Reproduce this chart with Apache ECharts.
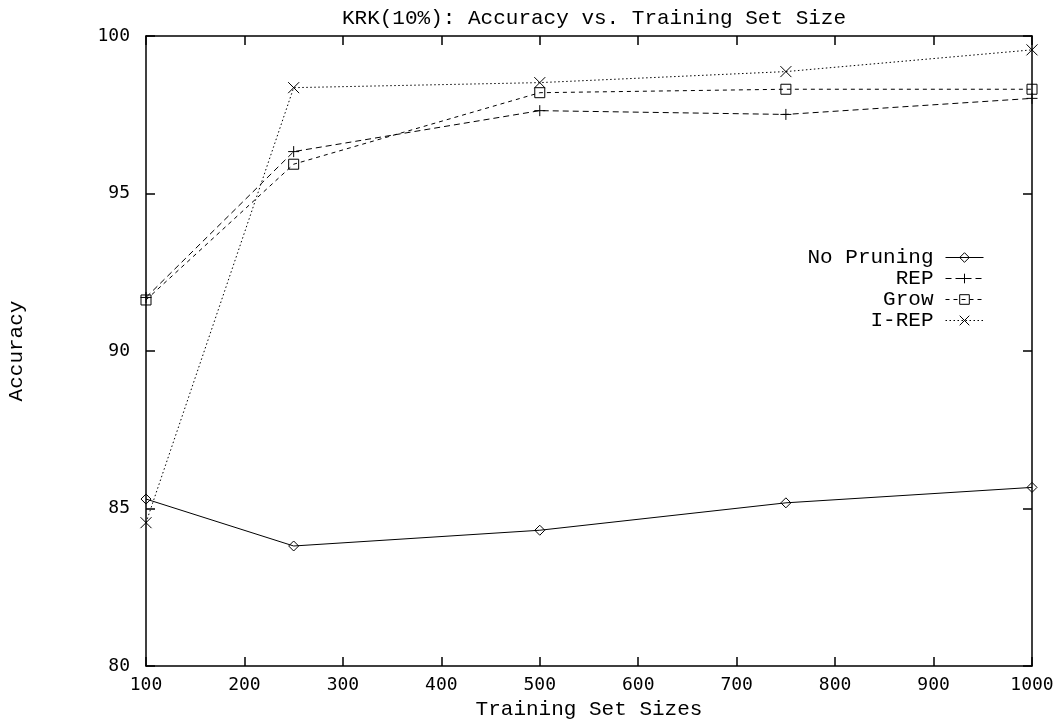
<!DOCTYPE html>
<html><head><meta charset="utf-8">
<script src="https://cdn.jsdelivr.net/npm/echarts@6/dist/echarts.min.js"></script>
<style>html,body{margin:0;padding:0;background:#fff}#c{width:1062px;height:721px}</style>
</head><body><div id="c"></div>
<script>
const sizes = [100, 250, 500, 750, 1000];
const noPruning = [85.30, 83.81, 84.31, 85.18, 85.67];
const rep = [91.70, 96.33, 97.63, 97.51, 98.02];
const grow = [91.62, 95.93, 98.20, 98.31, 98.31];
const irep = [84.55, 98.36, 98.52, 98.87, 99.56];
const seriesNames = ['No Pruning', 'REP', 'Grow', 'I-REP'];

const FONT = '"Liberation Mono", "Courier New", monospace';
const TICKFONT = '"DejaVu Sans Mono", monospace';
const pairs = a => sizes.map((s, i) => [s, a[i]]);
const diamondPath = 'path://M0,-5L5,0L0,5L-5,0Z';
const rectPath = 'path://M-5,-5L5,-5L5,5L-5,5Z';
const plusPath = 'path://M0,-5L0,5M-5,0L5,0';
const xPath = 'path://M-5,-5L5,5M-5,5L5,-5';

function mk(name, data, symbol, size, dash) {
  return {
    name, type: 'line', data: pairs(data), symbol, symbolSize: size,
    lineStyle: { color: '#000', width: 1, type: dash },
    itemStyle: { color: 'transparent', borderColor: '#000', borderWidth: 1 },
    emphasis: { disabled: true }, animation: false, z: 3
  };
}

const axisCommon = {
  axisLine: { show: true, lineStyle: { color: '#000', width: 1.5 } },
  axisTick: { show: true, inside: true, length: 9, lineStyle: { color: '#000', width: 1.5 } },
  splitLine: { show: false }
};

const chart = echarts.init(document.getElementById('c'));
chart.setOption({
  backgroundColor: '#fff',
  animation: false,
  textStyle: { fontFamily: FONT },
  title: { text: 'KRK(10%): Accuracy vs. Training Set Size', left: 589, top: 3, textAlign: 'center',
    textStyle: { fontFamily: FONT, fontSize: 21, fontWeight: 'normal', color: '#000' } },
  grid: { left: 146, right: 30, top: 36, bottom: 55, outerBoundsMode: 'none', containLabel: false },
  legend: {
    orient: 'vertical', right: 73, top: 242, align: 'right',
    itemWidth: 38, itemHeight: 12, itemGap: 0,
    data: seriesNames,
    lineStyle: { width: 1 },
    itemStyle: { borderWidth: 1 },
    textStyle: { fontFamily: FONT, fontSize: 21, lineHeight: 21, color: '#000', padding: [0, 7, 0, 0] },
    selectedMode: false
  },
  xAxis: [
    Object.assign({ type: 'value', min: 100, max: 1000, interval: 100, position: 'bottom',
      name: 'Training Set Sizes', nameLocation: 'middle', nameGap: 29,
      nameTextStyle: { fontFamily: FONT, fontSize: 21, color: '#000' },
      axisLabel: { fontFamily: TICKFONT, fontSize: 18, color: '#000', margin: 10, formatter: v => String(v) } }, axisCommon),
    Object.assign({ type: 'value', min: 100, max: 1000, interval: 100, position: 'top',
      axisLabel: { show: false } }, axisCommon)
  ],
  yAxis: [
    Object.assign({ type: 'value', min: 80, max: 100, interval: 5, position: 'left',
      name: 'Accuracy', nameLocation: 'middle', nameGap: 119, nameRotate: 90,
      nameTextStyle: { fontFamily: FONT, fontSize: 21, color: '#000' },
      axisLabel: { fontFamily: TICKFONT, fontSize: 18, color: '#000', margin: 16 } }, axisCommon),
    Object.assign({ type: 'value', min: 80, max: 100, interval: 5, position: 'right',
      axisLabel: { show: false } }, axisCommon)
  ],
  series: [
    mk('No Pruning', noPruning, diamondPath, 10, 'solid'),
    mk('REP', rep, plusPath, 11, [6, 4]),
    mk('Grow', grow, rectPath, 10, [4, 4]),
    mk('I-REP', irep, xPath, 11, [1.5, 2.5])
  ]
});
</script></body></html>
